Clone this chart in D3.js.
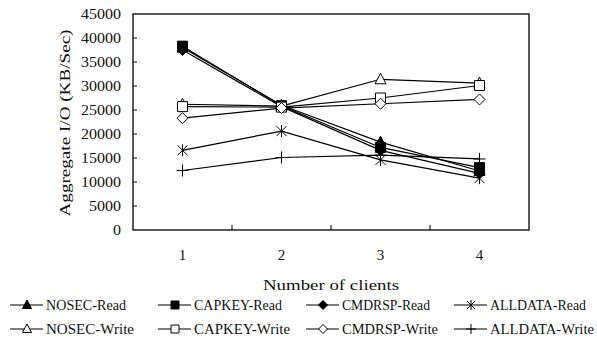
<!DOCTYPE html>
<html>
<head>
<meta charset="utf-8">
<script src="https://cdn.jsdelivr.net/npm/d3@7"></script>
<style>
  body { margin: 0; background: #fff; }
  text { font-family: "Liberation Serif", "DejaVu Serif", serif; fill: #111; }
</style>
</head>
<body>
<svg id="chart" width="597" height="339"></svg>
<script>
const clients = ['1', '2', '3', '4'];
const yTicks = [0, 5000, 10000, 15000, 20000, 25000, 30000, 35000, 40000, 45000];

const nosecRead = [38000, 26000, 18300, 12300];
const capkeyRead = [38300, 25900, 17200, 13000];
const cmdrspRead = [37500, 25700, 16600, 11800];
const alldataRead = [16600, 20600, 14600, 10800];
const nosecWrite = [26200, 25800, 31400, 30600];
const capkeyWrite = [25700, 25600, 27500, 30100];
const cmdrspWrite = [23300, 25400, 26300, 27200];
const alldataWrite = [12400, 15100, 15600, 14800];

const series = [
  { name: 'NOSEC-Read', values: nosecRead, marker: 'triangle', filled: true },
  { name: 'CAPKEY-Read', values: capkeyRead, marker: 'square', filled: true },
  { name: 'CMDRSP-Read', values: cmdrspRead, marker: 'diamond', filled: true },
  { name: 'ALLDATA-Read', values: alldataRead, marker: 'asterisk', filled: false },
  { name: 'NOSEC-Write', values: nosecWrite, marker: 'triangle', filled: false },
  { name: 'CAPKEY-Write', values: capkeyWrite, marker: 'square', filled: false },
  { name: 'CMDRSP-Write', values: cmdrspWrite, marker: 'diamond', filled: false },
  { name: 'ALLDATA-Write', values: alldataWrite, marker: 'plus', filled: false },
];

const CHAR = 8; // the original uses a monospaced face, ~8px per character

const svg = d3.select('#chart');
const margin = { left: 133, right: 68, top: 14, bottom: 109 };
const width = 597 - margin.left - margin.right;
const height = 339 - margin.top - margin.bottom;

const g = svg.append('g').attr('transform', `translate(${margin.left},${margin.top})`);

const x = d3.scaleBand().domain(clients).range([0, width]);
const y = d3.scaleLinear().domain([0, 45000]).range([height, 0]);

function mono(sel, perChar) {
  sel.attr('textLength', d => String(d).length * perChar)
    .attr('lengthAdjust', 'spacingAndGlyphs');
}

// frame
g.append('rect')
  .attr('width', width).attr('height', height)
  .attr('fill', 'none').attr('stroke', '#000').attr('stroke-width', 1.3);

// y ticks (inside)
g.selectAll('.ytick')
  .data(yTicks.slice(1, -1))
  .enter().append('line')
  .attr('x1', 0).attr('x2', 4)
  .attr('y1', d => y(d)).attr('y2', d => y(d))
  .attr('stroke', '#000');

// x band separators (inside ticks)
g.selectAll('.sep')
  .data(clients.slice(1))
  .enter().append('line')
  .attr('x1', d => x(d)).attr('x2', d => x(d))
  .attr('y1', height).attr('y2', height - 5)
  .attr('stroke', '#000');

// y tick labels
g.selectAll('.ylab')
  .data(yTicks)
  .enter().append('text')
  .attr('x', -12).attr('y', d => y(d))
  .attr('dy', '0.35em')
  .attr('text-anchor', 'end')
  .style('font-size', '15px')
  .text(d => d)
  .call(mono, CHAR);

// x tick labels
g.selectAll('.xlab')
  .data(clients)
  .enter().append('text')
  .attr('x', d => x(d) + x.bandwidth() / 2).attr('y', height + 25)
  .attr('dy', '0.35em')
  .attr('text-anchor', 'middle')
  .style('font-size', '15px')
  .text(d => d);

svg.append('text')
  .datum('Number of clients')
  .attr('x', margin.left + width / 2).attr('y', 285)
  .attr('dy', '0.35em')
  .attr('text-anchor', 'middle')
  .style('font-size', '14.5px')
  .text(d => d)
  .call(mono, CHAR);

svg.append('text')
  .datum('Aggregate I/O (KB/Sec)')
  .attr('transform', `translate(65,${margin.top + 109}) rotate(-90)`)
  .attr('dy', '0.35em')
  .attr('text-anchor', 'middle')
  .style('font-size', '15px')
  .text(d => d)
  .call(mono, 8.5);

function markerPath(type, s) {
  if (type === 'triangle') return `M0,${-s - 1}L${s + 0.5},${s - 0.5}L${-s - 0.5},${s - 0.5}Z`;
  if (type === 'square') return `M${-s},${-s}H${s}V${s}H${-s}Z`;
  if (type === 'diamond') return `M0,${-s - 0.5}L${s + 0.5},0L0,${s + 0.5}L${-s - 0.5},0Z`;
  if (type === 'asterisk') return `M${-s},${-s}L${s},${s}M${-s},${s}L${s},${-s}M0,${-s - 1}V${s + 1}`;
  return `M${-s - 1},0H${s + 1}M0,${-s - 1}V${s + 1}`;
}

function markerFill(d) {
  if (d.filled) return '#000';
  return (d.marker === 'asterisk' || d.marker === 'plus') ? 'none' : '#fff';
}

const line = d3.line()
  .x((d, i) => x(clients[i]) + x.bandwidth() / 2)
  .y(d => y(d));

series.forEach(s => {
  g.append('path')
    .datum(s.values)
    .attr('d', line)
    .attr('fill', 'none')
    .attr('stroke', '#000')
    .attr('stroke-width', 1.2);
});

series.forEach(s => {
  g.selectAll(null)
    .data(s.values)
    .enter().append('path')
    .attr('transform', (d, i) => `translate(${x(clients[i]) + x.bandwidth() / 2},${y(d)})`)
    .attr('d', markerPath(s.marker, 5))
    .attr('fill', markerFill(s))
    .attr('stroke', '#000')
    .attr('stroke-width', 1);
});

// legend
const legX = [10, 158, 306, 454];
const legY = [305, 329];
const leg = svg.selectAll('.leg')
  .data(series)
  .enter().append('g')
  .attr('transform', (d, i) => `translate(${legX[i % 4]},${legY[Math.floor(i / 4)]})`);

leg.append('line')
  .attr('x1', 0).attr('x2', 33)
  .attr('stroke', '#000').attr('stroke-width', 1.2);

leg.append('path')
  .attr('transform', 'translate(17,0)')
  .attr('d', d => markerPath(d.marker, 4))
  .attr('fill', markerFill)
  .attr('stroke', '#000');

leg.append('text')
  .attr('x', 36).attr('dy', '0.35em')
  .style('font-size', '14.5px')
  .text(d => d.name)
  .attr('textLength', d => d.name.length * CHAR)
  .attr('lengthAdjust', 'spacingAndGlyphs');
</script>
</body>
</html>
